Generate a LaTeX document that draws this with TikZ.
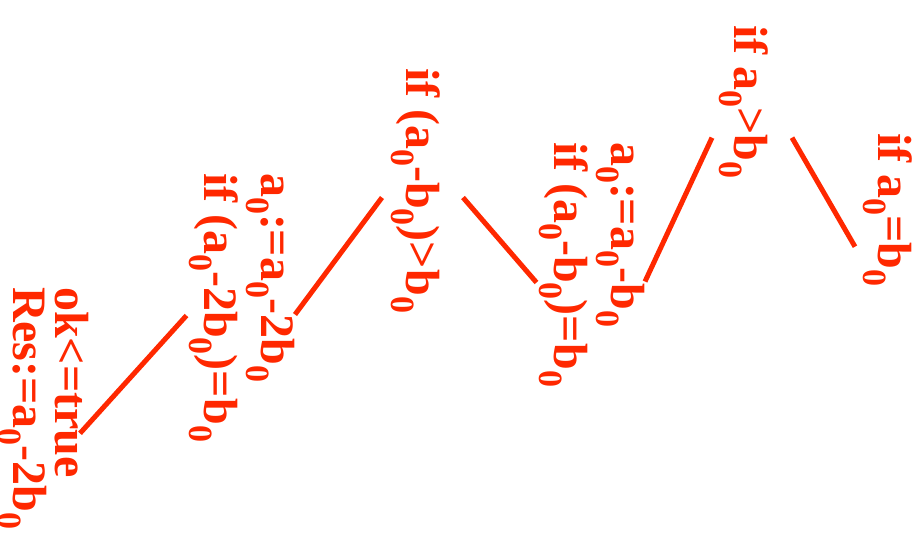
\documentclass[tikz,border=0pt]{standalone}
\usepackage{fontspec}
\setmainfont{Liberation Serif}
\usepackage{tikz}
\usetikzlibrary{calc}

\definecolor{treered}{RGB}{255,40,0}
\newcommand{\zs}{\raisebox{-0.31em}{\fontsize{34}{34}\selectfont 0}}

\begin{document}
\begin{tikzpicture}[x=1pt, y=-1pt,
    test/.style={rotate=-90, anchor=north west, inner sep=0pt, outer sep=0pt,
      align=left, text=treered, font=\fontsize{48}{57}\selectfont\bfseries},
    branch/.style={draw=treered, line width=5pt}]
    \useasboundingbox (0,0) rectangle (921,538);

    \node[test] (root) at (768,25)  {if a\zs>b\zs};
    \node[test] (eq)   at (912,133) {if a\zs=b\zs};
    \node[test] (sub1) at (645,142) {a\zs:=a\zs-b\zs\\if (a\zs-b\zs)=b\zs};
    \node[test] (gt1)  at (440,68)  {if (a\zs-b\zs)>b\zs};
    \node[test] (sub2) at (295,173) {a\zs:=a\zs-2b\zs\\if (a\zs-2b\zs)=b\zs};
    \node[test, font=\fontsize{48}{42}\selectfont\bfseries] (res) at (89,287)
        {ok<=true\\Res:=a\zs-2b\zs};

    \draw[branch] ($(root.north)+(24,36)$) -- ($(eq.south)+(-8,37)$);
    \draw[branch] ($(root.south)+(-7,36)$) -- ($(sub1.north)+(0,17)$);
    \draw[branch] ($(gt1.north)+(23,7)$)   -- ($(sub1.south)+(-3,18)$);
    \draw[branch] ($(gt1.south)+(-9,7)$)   -- ($(sub2.north)+(0,7)$);
    \draw[branch] ($(sub2.south)+(-3,8)$)  -- ($(res.north)+(-9,25)$);
\end{tikzpicture}
\end{document}
